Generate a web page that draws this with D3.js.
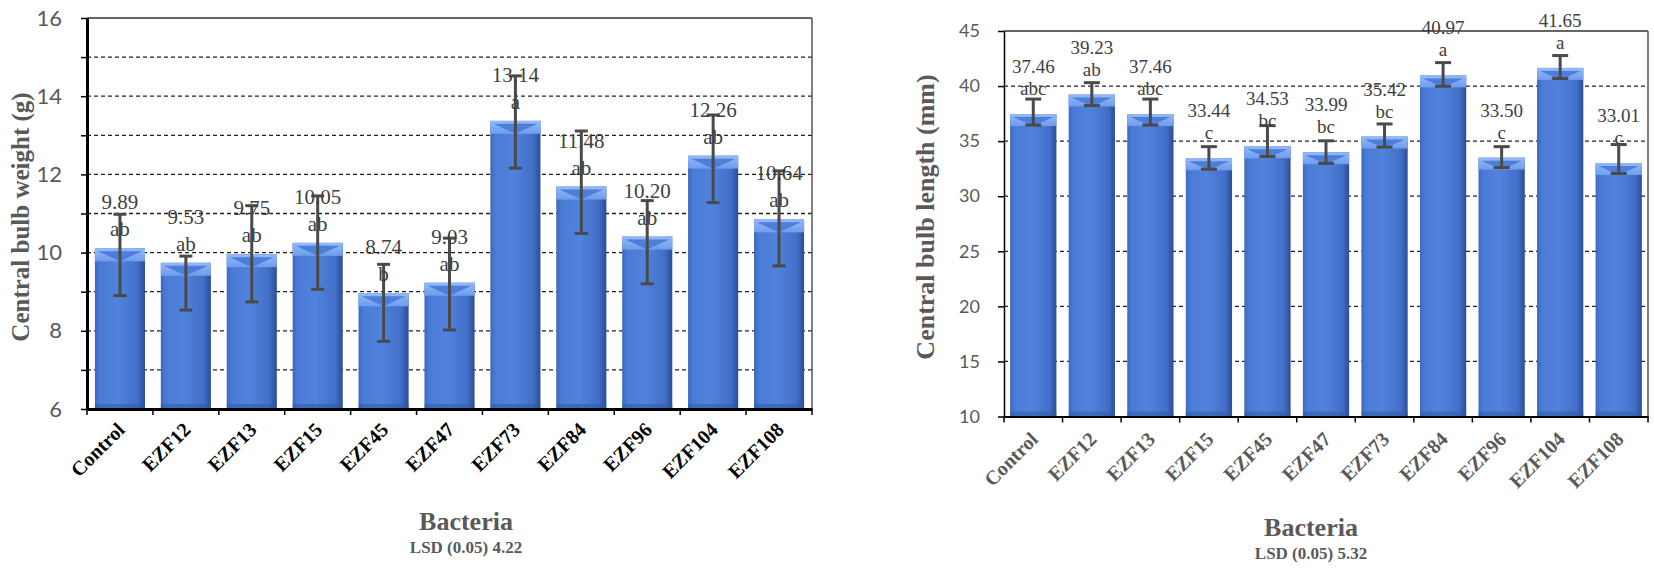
<!DOCTYPE html>
<html lang="en">
<head>
  <meta charset="UTF-8">
  <title>Central bulb weight and length</title>
  <script src="https://d3js.org/d3.v7.min.js"></script>
  <style>
    body { margin: 0; background: #fff; }
    svg { display: block; }
    .ylab { font-family: Lato, "Liberation Sans", sans-serif; fill: #595959; }
    .xlab { font-family: "Liberation Serif", serif; font-weight: bold; }
    .title { font-family: "Liberation Serif", serif; font-weight: bold; fill: #595959; }
    .dlabel { font-family: "Liberation Serif", serif; fill: #404040; text-anchor: middle; }
  </style>
</head>
<body>
  <svg width="1654" height="570"></svg>
  <script>
    const categories = ["Control", "EZF12", "EZF13", "EZF15", "EZF45", "EZF47", "EZF73", "EZF84", "EZF96", "EZF104", "EZF108"];

    // left chart: central bulb weight (g)
    const weightBars = [10.11, 9.74, 9.96, 10.25, 8.96, 9.23, 13.37, 11.69, 10.41, 12.48, 10.85];
    const weightLabels = ["9.89", "9.53", "9.75", "10.05", "8.74", "9.03", "13.14", "11.48", "10.20", "12.26", "10.64"];
    const weightLetters = ["ab", "ab", "ab", "ab", "b", "ab", "a", "ab", "ab", "ab", "ab"];
    const weightErrHigh = [10.98, 9.91, 11.20, 11.45, 9.70, 10.37, 14.52, 13.11, 11.33, 13.52, 12.09];
    const weightErrLow = [8.90, 8.53, 8.74, 9.06, 7.73, 8.02, 12.16, 10.49, 9.20, 11.28, 9.66];
    const weightTicks = [6, 7, 8, 9, 10, 11, 12, 13, 14, 15, 16];

    // right chart: central bulb length (mm)
    const lengthBars = [37.46, 39.23, 37.46, 33.44, 34.53, 33.99, 35.42, 40.97, 33.50, 41.65, 33.01];
    const lengthLabels = ["37.46", "39.23", "37.46", "33.44", "34.53", "33.99", "35.42", "40.97", "33.50", "41.65", "33.01"];
    const lengthLetters = ["abc", "ab", "abc", "c", "bc", "bc", "bc", "a", "c", "a", "c"];
    const lengthErrHigh = [38.82, 40.31, 38.82, 34.50, 36.41, 35.03, 36.56, 42.13, 34.50, 42.77, 34.69];
    const lengthErrLow = [36.46, 38.23, 36.46, 32.45, 33.60, 32.98, 34.45, 39.98, 32.60, 40.68, 32.06];
    const lengthTicks = [10, 15, 20, 25, 30, 35, 40, 45];

    const svg = d3.select("svg");

    // bar gradients, shared
    const defs = svg.append("defs");
    const grad = defs.append("linearGradient").attr("id", "barGrad")
      .attr("x1", "0%").attr("x2", "100%").attr("y1", "0%").attr("y2", "0%");
    grad.append("stop").attr("offset", "0%").attr("stop-color", "#3d68bf");
    grad.append("stop").attr("offset", "10%").attr("stop-color", "#4a7bd6");
    grad.append("stop").attr("offset", "45%").attr("stop-color", "#5083dd");
    grad.append("stop").attr("offset", "85%").attr("stop-color", "#426fc8");
    grad.append("stop").attr("offset", "100%").attr("stop-color", "#2b4d98");
    const topGrad = defs.append("linearGradient").attr("id", "topGrad")
      .attr("x1", "0%").attr("x2", "0%").attr("y1", "0%").attr("y2", "100%");
    topGrad.append("stop").attr("offset", "0%").attr("stop-color", "#94baf6");
    topGrad.append("stop").attr("offset", "100%").attr("stop-color", "#6f9cec");

    function drawChart(cfg) {
      const width = cfg.right - cfg.left;
      const height = cfg.bottom - cfg.top;
      const g = svg.append("g").attr("transform", `translate(${cfg.left},${cfg.top})`);

      const x = d3.scaleBand()
        .domain(categories)
        .range([0, width])
        .paddingInner(cfg.pad)
        .paddingOuter(cfg.pad / 2);

      const y = d3.scaleLinear()
        .domain(cfg.domain)
        .range([height, 0]);

      const cx = c => x(c) + x.bandwidth() / 2;

      // dashed gridlines
      g.selectAll(".grid")
        .data(cfg.ticks.filter(t => t > cfg.domain[0] && t < cfg.domain[1]))
        .enter().append("line")
        .attr("x1", 0).attr("x2", width)
        .attr("y1", d => y(d)).attr("y2", d => y(d))
        .attr("stroke", "#222")
        .attr("stroke-width", 1.3)
        .attr("stroke-dasharray", "4,3");

      // top and right frame
      g.append("line").attr("x1", 0).attr("x2", width).attr("y1", 0).attr("y2", 0)
        .attr("stroke", "#333").attr("stroke-width", 1.5);
      g.append("line").attr("x1", width).attr("x2", width).attr("y1", 0).attr("y2", height)
        .attr("stroke", "#555").attr("stroke-width", 1.5);

      // bars
      const bars = g.selectAll(".bar")
        .data(categories.map((c, i) => ({ c, i, v: cfg.bars[i] })))
        .enter().append("g");

      bars.append("rect")
        .attr("x", d => x(d.c))
        .attr("y", d => y(d.v))
        .attr("width", x.bandwidth())
        .attr("height", d => height - y(d.v))
        .attr("fill", "url(#barGrad)");

      // bevel on top of each bar
      bars.append("rect")
        .attr("x", d => x(d.c))
        .attr("y", d => y(d.v))
        .attr("width", x.bandwidth())
        .attr("height", cfg.bevel)
        .attr("fill", "url(#topGrad)");
      bars.append("path")
        .attr("d", d => {
          const x0 = x(d.c), x1 = x0 + x.bandwidth(), t = y(d.v);
          return `M${x0 + 3},${t + 3}L${x1 - 3},${t + 3}L${(x0 + x1) / 2},${t + cfg.bevel}Z`;
        })
        .attr("fill", "#4d7fda");
      bars.append("rect")
        .attr("x", d => x(d.c))
        .attr("y", height - 5)
        .attr("width", x.bandwidth())
        .attr("height", 5)
        .attr("fill", "#2f579f")
        .attr("opacity", 0.5);

      // error bars
      const cap = cfg.cap / 2;
      const eb = g.selectAll(".err")
        .data(categories.map((c, i) => ({ c, hi: cfg.errHigh[i], lo: cfg.errLow[i] })))
        .enter().append("g")
        .attr("stroke", "#4a4a4a")
        .attr("stroke-width", cfg.errWidth);
      eb.append("line")
        .attr("x1", d => cx(d.c)).attr("x2", d => cx(d.c))
        .attr("y1", d => y(d.hi)).attr("y2", d => y(d.lo));
      eb.append("line")
        .attr("x1", d => cx(d.c) - cap).attr("x2", d => cx(d.c) + cap)
        .attr("y1", d => y(d.hi)).attr("y2", d => y(d.hi));
      eb.append("line")
        .attr("x1", d => cx(d.c) - cap).attr("x2", d => cx(d.c) + cap)
        .attr("y1", d => y(d.lo)).attr("y2", d => y(d.lo));

      // data labels: value and letters
      g.selectAll(".val")
        .data(categories)
        .enter().append("text")
        .attr("class", "dlabel")
        .attr("x", d => cx(d))
        .attr("y", (d, i) => y(cfg.bars[i]) - cfg.valOff)
        .style("font-size", cfg.labelSize + "px")
        .text((d, i) => cfg.labels[i]);
      g.selectAll(".let")
        .data(categories)
        .enter().append("text")
        .attr("class", "dlabel")
        .attr("x", d => cx(d))
        .attr("y", (d, i) => y(cfg.bars[i]) - cfg.letOff)
        .style("font-size", cfg.labelSize + "px")
        .text((d, i) => cfg.letters[i]);

      // y axis
      const yAxis = g.append("g")
        .call(d3.axisLeft(y)
          .tickValues(cfg.ticks)
          .tickSize(6)
          .tickSizeOuter(0)
          .tickPadding(cfg.tickPad)
          .tickFormat(d => cfg.tickLabel(d) ? d : ""));
      yAxis.select(".domain").attr("stroke", "#000").attr("stroke-width", cfg.axisWidth);
      yAxis.selectAll(".tick line").attr("stroke", "#000").attr("stroke-width", 1.5);
      yAxis.selectAll(".tick text")
        .attr("class", "ylab")
        .style("font-size", cfg.yTickSize + "px");

      // x axis line (labels drawn separately below)
      const xAxis = g.append("g")
        .attr("transform", `translate(0,${height})`)
        .call(d3.axisBottom(x).tickSize(0).tickSizeOuter(0).tickFormat(""));
      xAxis.select(".domain").attr("stroke", "#000").attr("stroke-width", cfg.xAxisWidth);

      // tick marks between categories
      const bounds = categories.map(c => x(c) - x.step() * x.paddingInner() / 2);
      bounds[0] = 0;
      bounds.push(width);
      xAxis.selectAll(".sep")
        .data(bounds)
        .enter().append("line")
        .attr("x1", d => d).attr("x2", d => d)
        .attr("y1", 0).attr("y2", 6)
        .attr("stroke", "#000").attr("stroke-width", 1.5);

      // rotated category labels
      g.selectAll(".xl")
        .data(categories)
        .enter().append("g")
        .attr("transform", d => `translate(${cx(d) + 6},${height + cfg.xLabDown})`)
        .append("text")
        .attr("class", "xlab")
        .attr("text-anchor", "end")
        .attr("fill", cfg.xLabColor)
        .style("font-size", cfg.xLabSize + "px")
        .attr("transform", "rotate(-45)")
        .text(d => d);

      // titles
      svg.append("text")
        .attr("class", "title")
        .attr("text-anchor", "middle")
        .attr("transform", `translate(${cfg.yTitleX},${cfg.yTitleY}) rotate(-90)`)
        .style("font-size", cfg.yTitleSize + "px")
        .text(cfg.yTitle);
      svg.append("text")
        .attr("class", "title")
        .attr("text-anchor", "middle")
        .attr("x", cfg.xTitleX).attr("y", cfg.xTitleY)
        .style("font-size", "26px")
        .text("Bacteria");
      svg.append("text")
        .attr("class", "title")
        .attr("text-anchor", "middle")
        .attr("x", cfg.xTitleX).attr("y", cfg.xTitleY + 23)
        .style("font-size", "17px")
        .text(cfg.lsd);
    }

    drawChart({
      left: 87, right: 812, top: 18, bottom: 409,
      domain: [6, 16], ticks: weightTicks, tickLabel: d => d % 2 === 0,
      bars: weightBars, labels: weightLabels, letters: weightLetters,
      errHigh: weightErrHigh, errLow: weightErrLow,
      pad: 0.24, bevel: 13, cap: 13, errWidth: 3,
      labelSize: 21, valOff: 39, letOff: 12,
      tickPad: 19, yTickSize: 22, axisWidth: 3, xAxisWidth: 3,
      xLabColor: "#000", xLabSize: 20, xLabDown: 22,
      yTitle: "Central bulb weight (g)", yTitleX: 29, yTitleY: 217, yTitleSize: 25,
      xTitleX: 466, xTitleY: 530, lsd: "LSD (0.05) 4.22"
    });

    drawChart({
      left: 1004, right: 1648, top: 31, bottom: 416.5,
      domain: [10, 45], ticks: lengthTicks, tickLabel: d => true,
      bars: lengthBars, labels: lengthLabels, letters: lengthLetters,
      errHigh: lengthErrHigh, errLow: lengthErrLow,
      pad: 0.21, bevel: 12, cap: 16, errWidth: 3,
      labelSize: 19, valOff: 41, letOff: 19,
      tickPad: 18, yTickSize: 18, axisWidth: 1.5, xAxisWidth: 2,
      xLabColor: "#595959", xLabSize: 20, xLabDown: 24,
      yTitle: "Central bulb length (mm)", yTitleX: 934, yTitleY: 217, yTitleSize: 26,
      xTitleX: 1311, xTitleY: 536, lsd: "LSD (0.05) 5.32"
    });
  </script>
</body>
</html>
